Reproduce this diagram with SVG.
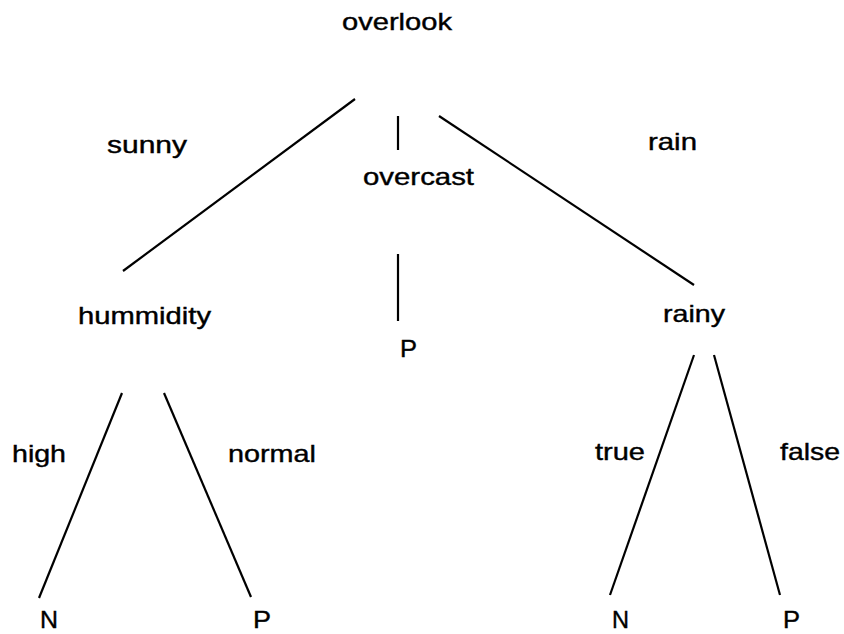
<svg xmlns="http://www.w3.org/2000/svg" width="844" height="634" viewBox="0 0 844 634">
<style>
text{font-family:"Liberation Sans",Arial,sans-serif;font-size:24px;fill:#000;stroke:#000;stroke-width:0.4}
.c line{stroke:#000;stroke-width:2.2;stroke-linecap:butt}
</style>
<rect width="844" height="634" fill="#fff"/>
<g id="connectors" class="c">
<line x1="355" y1="99" x2="123" y2="271"/>
<line x1="398" y1="116" x2="398" y2="150"/>
<line x1="439" y1="116" x2="694" y2="285"/>
<line x1="398" y1="254" x2="398" y2="321"/>
<line x1="122" y1="393" x2="39" y2="598"/>
<line x1="164" y1="393" x2="251" y2="597"/>
<line x1="694" y1="355" x2="610" y2="595"/>
<line x1="714" y1="355" x2="780" y2="595"/>
</g>
<g id="edge-labels">
<text x="107" y="153" textLength="80" lengthAdjust="spacingAndGlyphs">sunny</text>
<text x="648" y="150" textLength="49" lengthAdjust="spacingAndGlyphs">rain</text>
<text x="12" y="462" textLength="54" lengthAdjust="spacingAndGlyphs">high</text>
<text x="228" y="462" textLength="88" lengthAdjust="spacingAndGlyphs">normal</text>
<text x="595" y="460" textLength="50" lengthAdjust="spacingAndGlyphs">true</text>
<text x="780" y="460" textLength="60" lengthAdjust="spacingAndGlyphs">false</text>
</g>
<g id="node-overlook"><text x="342" y="30" textLength="110" lengthAdjust="spacingAndGlyphs">overlook</text></g>
<g id="node-overcast"><text x="363" y="185" textLength="111" lengthAdjust="spacingAndGlyphs">overcast</text></g>
<g id="node-hummidity"><text x="78" y="324" textLength="133" lengthAdjust="spacingAndGlyphs">hummidity</text></g>
<g id="node-P-mid"><text x="400" y="357" textLength="17" lengthAdjust="spacingAndGlyphs">P</text></g>
<g id="node-rainy"><text x="663" y="322" textLength="62" lengthAdjust="spacingAndGlyphs">rainy</text></g>
<g id="node-N-left"><text x="40" y="628" textLength="18" lengthAdjust="spacingAndGlyphs">N</text></g>
<g id="node-P-left"><text x="253" y="628" textLength="18" lengthAdjust="spacingAndGlyphs">P</text></g>
<g id="node-N-right"><text x="612" y="628" textLength="17" lengthAdjust="spacingAndGlyphs">N</text></g>
<g id="node-P-right"><text x="783" y="628" textLength="17" lengthAdjust="spacingAndGlyphs">P</text></g>
</svg>
